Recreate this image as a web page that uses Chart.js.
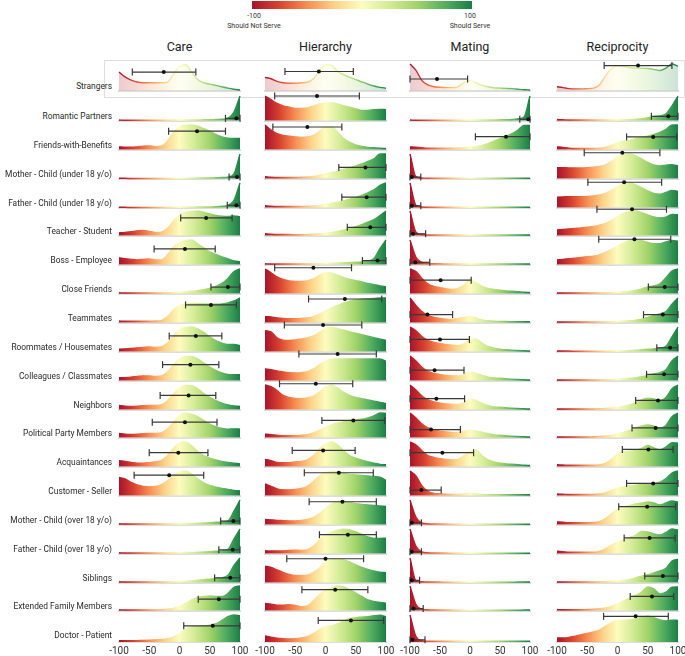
<!DOCTYPE html>
<html>
<head>
<meta charset="utf-8">
<script src="https://cdn.jsdelivr.net/npm/chart.js@4.4.0/dist/chart.umd.min.js"></script>
<style>
  body { margin: 0; width: 685px; height: 656px; overflow: hidden; background: #fff; position: relative;
         font-family: Roboto, "Noto Sans", sans-serif; color: #333; }
  .abs { position: absolute; }
  .rowlabel { position: absolute; right: 573px; font-size: 8.4px; white-space: nowrap; line-height: 12px; color: #2a2a2a; }
  .coltitle { position: absolute; top: 39px; font-size: 12.5px; width: 140px; text-align: center; color: #222; }
  .leg { position: absolute; font-size: 7px; width: 80px; text-align: center; color: #333; line-height: 9.5px; }
  canvas { position: absolute; }
</style>
</head>
<body>
<div id="bar" class="abs" style="left:252px;top:1px;width:220px;height:8px;"></div>
<div class="leg" style="left:214px;top:12px;">-100<br>Should Not Serve</div>
<div class="leg" style="left:430px;top:12px;">100<br>Should Serve</div>
<div class="abs" style="left:104px;top:60px;width:579px;height:36px;border:1.5px solid #dedede;"></div>
<script>
const columns = ["Care", "Hierarchy", "Mating", "Reciprocity"];
const rows = [
  "Strangers", "Romantic Partners", "Friends-with-Benefits", "Mother - Child (under 18 y/o)",
  "Father - Child (under 18 y/o)", "Teacher - Student", "Boss - Employee", "Close Friends",
  "Teammates", "Roommates / Housemates", "Colleagues / Classmates", "Neighbors",
  "Political Party Members", "Acquaintances", "Customer - Seller", "Mother - Child (over 18 y/o)",
  "Father - Child (over 18 y/o)", "Siblings", "Extended Family Members", "Doctor - Patient"
];
const xGrid = [-100, -90, -80, -70, -60, -50, -40, -30, -20, -10, 0, 10, 20, 30, 40, 50, 60, 70, 80, 90, 100];
const xTicks = [-100, -50, 0, 50, 100];

// density heights (percent of ridge height) at xGrid
const careDensity = [
  [70,52,40,33,30,30,30,30,32,62,90,97,70,42,30,25,20,15,10,6,3],
  [3,2,2,2,2,2,2,2,2,3,3,3,3,3,4,4,5,6,10,35,100],
  [12,10,10,12,15,16,13,15,35,70,92,99,100,95,85,75,62,52,47,46,46],
  [2,2,1,1,1,1,1,1,1,1,2,2,2,3,3,3,4,5,7,20,100],
  [2,2,1,1,1,1,1,1,1,1,2,2,2,3,3,3,4,6,10,30,100],
  [12,14,17,20,22,18,14,15,30,60,85,95,98,100,95,88,82,79,78,80,76],
  [28,25,22,20,22,24,20,20,40,72,88,98,100,85,68,52,42,32,24,16,12],
  [4,3,3,3,3,3,3,3,4,5,6,8,10,13,17,22,30,42,62,90,100],
  [7,6,6,6,6,6,7,9,25,52,70,76,78,77,76,75,75,76,80,88,100],
  [10,12,14,16,18,20,18,20,35,65,88,98,100,92,78,60,45,35,30,30,25],
  [12,13,15,18,20,20,18,20,35,65,88,99,98,88,72,55,42,32,26,25,25],
  [18,15,14,15,17,18,18,20,35,65,88,99,97,85,65,50,37,27,20,16,14],
  [18,15,14,15,17,18,18,20,35,62,90,99,95,85,70,55,45,38,35,36,35],
  [25,22,18,15,15,17,20,25,45,75,95,100,85,62,45,35,28,22,18,15,12],
  [74,68,54,44,38,36,38,45,60,82,95,100,88,68,52,42,35,30,26,22,20],
  [4,3,3,3,3,3,3,3,3,4,4,5,5,6,7,8,10,12,16,55,100],
  [4,3,3,3,3,3,3,3,3,4,4,5,5,6,7,8,10,12,18,60,100],
  [4,3,3,3,3,3,3,3,3,4,5,6,8,10,13,15,17,20,30,70,100],
  [4,3,3,3,3,3,3,4,6,10,18,30,44,54,58,60,58,58,70,95,100],
  [5,5,5,5,6,7,8,9,12,18,30,48,55,58,60,62,68,80,94,100,97]
];
const hierarchyDensity = [
  [50,45,35,30,28,28,30,32,45,75,97,95,72,60,50,42,33,25,18,13,10],
  [100,85,70,60,55,50,50,52,60,68,72,72,68,60,55,48,42,42,45,46,45],
  [100,80,65,58,55,52,50,52,58,75,92,92,72,45,30,20,14,10,8,6,5],
  [8,6,5,5,5,5,6,7,10,14,20,25,30,38,45,52,60,70,80,100,100],
  [8,6,5,5,5,5,5,6,7,10,14,18,22,28,35,42,50,60,72,90,100],
  [8,6,5,5,5,4,4,5,6,8,11,14,18,23,30,37,45,55,65,82,100],
  [4,3,3,3,3,3,3,3,3,4,5,6,7,8,9,10,12,15,25,65,100],
  [100,85,68,58,52,50,50,52,60,75,85,84,75,65,58,53,48,42,37,32,28],
  [25,24,20,18,17,17,18,20,25,35,48,60,70,80,87,92,95,97,98,100,100],
  [85,80,56,47,46,48,52,56,64,78,94,98,93,87,80,75,69,63,57,51,46],
  [48,45,40,36,33,32,33,37,48,65,80,88,88,88,88,88,88,88,88,88,78],
  [100,93,78,58,50,46,45,48,55,72,92,98,88,70,58,50,45,40,35,30,25],
  [15,13,10,8,8,8,10,13,20,30,42,52,60,65,70,72,75,80,88,100,98],
  [30,25,18,17,17,20,22,28,45,72,92,100,88,65,45,35,27,20,15,10,8],
  [48,38,28,24,24,26,30,38,58,80,93,98,96,90,86,84,82,80,78,75,62],
  [22,20,18,17,16,16,18,22,30,45,66,84,94,95,90,85,82,80,78,76,74],
  [12,11,11,12,14,15,14,17,30,55,75,87,95,99,96,88,78,68,62,62,63],
  [67,62,52,42,34,30,30,31,42,60,84,94,96,92,84,72,62,54,48,43,41],
  [30,27,23,23,25,22,17,20,40,65,82,93,100,96,85,71,58,44,38,34,31],
  [22,18,14,12,11,12,15,20,31,45,57,60,68,78,86,90,92,94,97,99,94]
];
const matingDensity = [
  [100,76,38,22,15,13,12,12,15,30,39,30,20,15,11,10,9,8,6,4,3],
  [3,2,2,2,2,2,2,2,2,2,3,3,3,3,3,4,4,5,8,15,100],
  [12,10,8,6,6,6,6,6,7,8,10,13,18,25,35,45,55,65,80,98,98],
  [100,8,3,2,2,2,2,2,2,2,2,2,2,2,2,2,2,2,2,2,2],
  [100,10,3,2,2,2,2,2,2,2,2,2,2,2,2,2,2,2,2,2,2],
  [100,15,5,3,3,3,3,3,3,3,3,3,3,3,3,3,3,3,3,3,3],
  [100,30,10,5,4,4,3,3,3,3,3,3,3,3,3,3,3,3,3,3,3],
  [100,90,62,40,30,25,20,18,22,35,55,45,30,22,18,15,12,10,8,6,5],
  [100,70,45,30,22,18,15,14,18,22,25,20,12,8,6,5,5,4,4,4,4],
  [100,85,62,46,38,33,30,27,25,32,50,52,35,22,15,11,8,6,5,4,3],
  [100,80,55,38,30,25,22,20,20,25,35,30,22,15,12,10,8,6,5,4,3],
  [100,80,55,40,32,27,24,22,22,28,42,38,26,17,12,10,8,6,5,4,3],
  [100,80,55,40,32,27,24,22,22,26,30,28,22,17,12,10,8,6,5,4,3],
  [100,88,65,45,38,33,30,28,30,45,62,68,45,28,20,15,12,10,8,6,5],
  [100,80,40,18,10,8,6,5,5,7,10,8,5,4,4,4,4,4,4,4,4],
  [100,30,8,4,3,3,3,2,2,2,2,2,2,2,2,2,2,2,2,2,2],
  [100,30,8,4,3,3,3,2,2,2,2,2,2,2,2,2,2,2,2,2,2],
  [100,8,4,3,3,3,2,2,2,2,2,2,2,2,2,2,2,2,3,3,3],
  [100,25,6,4,3,3,3,3,2,2,2,2,2,2,2,2,2,2,2,3,3],
  [100,20,5,3,3,3,3,3,3,3,3,3,3,3,3,3,3,3,3,3,3]
];
const reciprocityDensity = [
  [15,12,8,7,7,8,10,22,55,82,92,90,86,85,84,83,80,76,85,100,92],
  [5,4,3,3,3,3,3,3,3,3,4,4,5,6,8,12,17,20,28,60,100],
  [12,10,6,5,5,5,5,6,10,18,28,35,38,45,50,55,62,70,82,100,100],
  [45,45,44,44,44,45,47,50,56,70,87,98,100,92,80,66,56,52,55,57,52],
  [43,44,45,45,45,46,48,52,58,70,85,96,100,92,80,68,58,55,62,70,66],
  [24,26,28,30,32,35,38,43,50,62,76,90,98,100,93,84,76,72,75,86,85],
  [20,22,25,27,30,33,35,40,50,62,75,88,97,100,97,90,85,85,92,98,95],
  [3,3,3,3,3,3,3,3,4,5,6,8,10,14,20,28,32,40,65,92,100],
  [3,3,3,3,3,3,3,3,3,4,5,6,8,11,15,22,30,36,45,75,100],
  [3,3,3,2,2,2,2,2,2,3,3,4,5,6,8,10,12,15,22,60,100],
  [3,3,3,3,3,3,3,3,4,5,6,8,10,13,17,22,28,33,45,80,100],
  [3,3,3,3,3,3,3,4,5,7,10,14,20,28,40,47,44,38,50,85,100],
  [3,3,3,3,3,3,4,5,7,10,15,22,30,40,48,52,47,40,50,85,100],
  [8,7,6,6,6,6,6,8,14,30,52,60,63,66,75,86,76,68,80,97,95],
  [7,6,5,5,5,5,5,7,12,22,30,35,40,43,45,47,50,55,70,92,100],
  [12,10,8,8,8,8,9,13,25,45,62,72,78,84,88,92,88,80,88,96,92],
  [10,8,6,6,6,6,6,10,20,35,46,56,66,75,90,88,80,76,86,100,96],
  [3,3,3,3,3,3,3,3,4,5,7,10,14,20,27,33,40,48,58,88,95],
  [5,4,4,4,4,5,6,8,12,18,28,40,52,62,76,96,88,68,75,95,96],
  [15,15,17,22,27,32,37,44,58,72,80,81,82,85,92,96,90,82,78,81,80]
];

// [low, mean, high] of each rating, plus the height the interval is drawn at
const careStats = [
  [-78,-26,27],[76,94,100],[-18,29,76],[82,95,100],[79,94,100],[2,44,87],[-42,9,59],[52,80,100],
  [10,52,94],[-17,27,70],[-28,18,65],[-32,15,60],[-45,9,62],[-50,-2,47],[-75,-17,40],[68,89,100],
  [65,88,100],[58,84,100],[31,65,100],[7,55,100]
];
const careLevel = [70,10,75,7,10,72,64,27,72,64,65,58,63,57,83,15,16,20,47,60];
const hierarchyStats = [
  [-67,-11,46],[-84,-14,56],[-87,-30,27],[22,66,100],[27,68,100],[36,74,100],[61,86,100],[-84,-20,43],
  [-28,32,93],[-68,-4,60],[-44,20,84],[-76,-16,45],[-6,46,98],[-55,-4,49],[-35,22,79],[-27,28,84],
  [-10,37,84],[-64,0,63],[-39,16,70],[-12,42,96]
];
const hierarchyLevel = [72,100,92,46,43,34,17,105,96,108,108,105,70,66,93,93,77,97,85,80];
const matingStats = [
  [-100,-55,-4],[83,97,100],[9,60,100],[-100,-97,-82],[-100,-97,-82],[-100,-95,-74],[-100,-91,-67],[-100,-49,2],
  [-100,-71,-29],[-100,-50,-1],[-100,-59,-10],[-100,-56,-9],[-100,-65,-16],[-100,-46,6],[-100,-81,-48],[-100,-97,-81],
  [-100,-97,-81],[-100,-97,-84],[-100,-94,-78],[-100,-96,-75]
];
const matingLevel = [44,6,53,7,8,8,10,55,33,50,43,45,33,57,23,8,8,10,9,8];
const reciprocityStats = [
  [-22,34,90],[56,84,100],[15,59,98],[-55,8,70],[-49,11,73],[-34,24,81],[-31,28,88],[51,78,100],
  [43,75,100],[65,87,100],[48,77,100],[30,67,100],[24,63,100],[8,51,92],[15,59,100],[2,49,96],
  [11,53,95],[45,75,100],[21,57,93],[-23,30,84]
];
const reciprocityLevel = [94,18,52,105,103,107,103,27,33,16,26,38,40,70,50,73,64,27,58,95];

const densities = [careDensity, hierarchyDensity, matingDensity, reciprocityDensity];
const stats = [careStats, hierarchyStats, matingStats, reciprocityStats];
const levels = [careLevel, hierarchyLevel, matingLevel, reciprocityLevel];

// palette: red (should not serve) -> yellow -> green (should serve)
const stops = [
  [0, "#a8132b"], [0.12, "#d8412f"], [0.25, "#f88d52"], [0.38, "#fdd388"], [0.5, "#fcfcbf"],
  [0.62, "#d4ec97"], [0.75, "#a2d46a"], [0.88, "#52ad5f"], [1, "#1a7f46"]
];

const colLeft = [119, 265, 410, 557];
const colWidth = [121, 121, 120, 121];
const SIDE = 16, TOP = 10, BOT = 3;

const rgba = (hex, a) => {
  const n = parseInt(hex.slice(1), 16);
  return `rgba(${n >> 16},${(n >> 8) & 255},${n & 255},${a})`;
};

document.getElementById("bar").style.background =
  "linear-gradient(to right," + stops.map(([p, c]) => `${c} ${p * 100}%`).join(",") + ")";

const grad = (chart, alpha) => {
  const area = chart.chartArea;
  if (!area) return rgba("#fcfcbf", alpha);
  const g = chart.ctx.createLinearGradient(area.left, 0, area.right, 0);
  stops.forEach(([p, c]) => g.addColorStop(p, rgba(c, alpha)));
  return g;
};

const baseline = (r) => (r === 0 ? 93 : 123 + (r - 1) * 28.85);

columns.forEach((name, c) => {
  const t = document.createElement("div");
  t.className = "coltitle";
  t.style.left = colLeft[c] + colWidth[c] / 2 - 70 + "px";
  t.textContent = name;
  document.body.appendChild(t);
});

rows.forEach((name, r) => {
  const lab = document.createElement("div");
  lab.className = "rowlabel";
  lab.style.top = baseline(r) - 13 + "px";
  lab.textContent = name;
  document.body.appendChild(lab);

  columns.forEach((col, c) => {
    const h = r === 0 ? 29 : 27;
    const last = r === rows.length - 1;
    const axisH = last ? 16 : 0;
    const cv = document.createElement("canvas");
    cv.width = colWidth[c] + SIDE * 2;
    cv.height = TOP + h + BOT + axisH;
    cv.style.left = colLeft[c] - SIDE + "px";
    cv.style.top = Math.round(baseline(r) - h - TOP) + "px";
    document.body.appendChild(cv);

    const dens = densities[c][r];
    const [lo, mean, hi] = stats[c][r];
    const lv = levels[c][r];

    new Chart(cv, {
      type: "line",
      data: {
        datasets: [
          {
            data: xGrid.map((x, i) => ({ x, y: dens[i] })),
            borderColor: (ctx) => grad(ctx.chart, 1),
            backgroundColor: (ctx) => grad(ctx.chart, r === 0 ? 0.22 : 1),
            fill: "origin",
            borderWidth: 1.4,
            pointRadius: 0,
            cubicInterpolationMode: "monotone",
            clip: false,
            order: 3,
          },
          {
            data: [{ x: lo, y: lv }, { x: hi, y: lv }],
            borderColor: "#383838",
            borderWidth: 1.2,
            pointStyle: "line",
            pointRotation: 90,
            pointRadius: 3.5,
            pointBorderColor: "#383838",
            pointBorderWidth: 1.2,
            fill: false,
            clip: false,
            order: 2,
          },
          {
            data: [{ x: mean, y: lv }],
            showLine: false,
            pointRadius: 2,
            pointBackgroundColor: "#111",
            pointBorderWidth: 0,
            clip: false,
            order: 1,
          },
        ],
      },
      options: {
        responsive: false,
        animation: false,
        devicePixelRatio: 1,
        events: [],
        layout: { padding: { left: SIDE, right: SIDE, top: TOP, bottom: BOT } },
        plugins: { legend: { display: false }, tooltip: { enabled: false } },
        scales: {
          x: {
            type: "linear",
            min: -100,
            max: 100,
            afterBuildTicks: (s) => { s.ticks = xTicks.map((v) => ({ value: v })); },
            afterFit: (s) => { s.height = axisH; },
            grid: { display: false, drawTicks: false },
            border: { display: true, color: "#dddddd", width: 2 },
            ticks: {
              display: last,
              padding: 3,
              color: "#333",
              maxRotation: 0,
              autoSkip: false,
              font: { size: 10, family: "Roboto" },
            },
          },
          y: { display: false, min: 0, max: 100 },
        },
      },
    });
  });
});
</script>
</body>
</html>
